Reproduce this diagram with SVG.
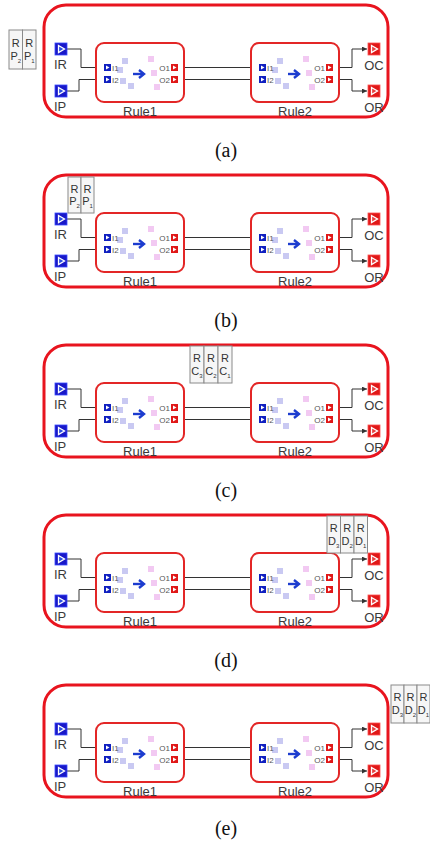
<svg xmlns="http://www.w3.org/2000/svg" width="430" height="844" viewBox="0 0 430 844">
<style>
.frame{fill:none;stroke:#e8141e;stroke-width:3}
.rule{fill:#fff;stroke:#e32626;stroke-width:2}
.lbl{font-family:"Liberation Sans",Arial,sans-serif;font-size:13px;fill:#3a3a3a}
.mid{text-anchor:middle}
.pl{font-family:"Liberation Sans",Arial,sans-serif;font-size:8px;fill:#555}
.cap{font-family:"Liberation Serif","Times New Roman",serif;font-size:20px;fill:#111;text-anchor:middle}
.wire{fill:none;stroke:#333;stroke-width:1;marker-end:url(#ah)}
.tok rect{fill:#f6f6f6;stroke:#8a8a8a;stroke-width:1}
.tk{font-family:"Liberation Sans",Arial,sans-serif;font-size:11px;fill:#333;text-anchor:middle}
.sub{font-size:6px}
.sqb{fill:#c9c9f2}
.sqp{fill:#f2c9f2}
.arr{fill:none;stroke:#1c3ccf;stroke-width:2.4}
</style>
<defs>
<marker id="ah" markerUnits="userSpaceOnUse" markerWidth="5" markerHeight="5" refX="5" refY="2.5" orient="auto"><path d="M0,0L5,2.5L0,5z" fill="#333"/></marker>
<g id="pin-in"><rect x="0" y="0" width="12" height="12" fill="#1818c8" stroke="#3a4aff" stroke-width="0.8"/><path d="M3.5,2.5L9.5,6L3.5,9.5Z" fill="#2a50e0" stroke="#fff" stroke-width="1.3"/></g>
<g id="pin-out"><rect x="0" y="0" width="12" height="12" fill="#e01818" stroke="#ff5050" stroke-width="0.8"/><path d="M3.5,2.5L9.5,6L3.5,9.5Z" fill="#e84040" stroke="#fff" stroke-width="1.3"/></g>
<g id="sin"><rect width="7" height="7" fill="#1020c0"/><path d="M2,1.5L5.5,3.5L2,5.5Z" fill="#fff"/></g>
<g id="sout"><rect width="7" height="7" fill="#e01818"/><path d="M2,1.5L5.5,3.5L2,5.5Z" fill="#fff"/></g>
<g id="rule">
<rect class="rule" x="0" y="0" width="88" height="59" rx="8"/>
<rect class="sqb" x="26" y="15" width="6" height="6"/>
<rect class="sqb" x="21" y="24" width="6" height="6"/>
<rect class="sqb" x="24" y="35" width="6" height="6"/>
<rect class="sqb" x="32" y="40" width="6" height="6"/>
<rect class="sqp" x="52" y="13" width="6" height="6"/>
<rect class="sqp" x="55" y="27" width="6" height="6"/>
<rect class="sqp" x="58" y="41" width="6" height="6"/>
<path class="arr" d="M37,31H47"/><path class="arr" d="M43,27L48,31L43,35"/>
<use href="#sin" x="8" y="21"/><use href="#sin" x="8" y="33"/>
<use href="#sout" x="75" y="21"/><use href="#sout" x="75" y="33"/>
<text class="pl" x="16" y="27.5">I1</text><text class="pl" x="16" y="39.5">I2</text>
<text class="pl" x="74" y="27.5" text-anchor="end">O1</text><text class="pl" x="74" y="39.5" text-anchor="end">O2</text>
</g>
</defs>
<rect x="0" y="0" width="430" height="844" fill="#fff"/>

<g id="panel-a" transform="translate(0,5)">
<g id="a-frame"><rect class="frame" x="44" y="0" width="344" height="112" rx="22"/></g>
<g id="a-connectors">
<path class="wire" d="M67,44H81V62.5H103"/>
<path class="wire" d="M67,86H79V74.5H103"/>
<path class="wire" d="M178,62.5H258"/>
<path class="wire" d="M178,74.5H258"/>
<path class="wire" d="M333,62.5H352V44H367"/>
<path class="wire" d="M333,74.5H352V86H367"/>
</g>
<g id="a-IR"><use href="#pin-in" x="55" y="38"/><text class="lbl" x="54" y="64">IR</text></g>
<g id="a-IP"><use href="#pin-in" x="55" y="80"/><text class="lbl" x="54" y="106">IP</text></g>
<g id="a-rule1"><use href="#rule" x="96" y="38"/><text class="lbl mid" x="140" y="111">Rule1</text></g>
<g id="a-rule2"><use href="#rule" x="251" y="38"/><text class="lbl mid" x="295" y="111">Rule2</text></g>
<g id="a-OC"><use href="#pin-out" x="368" y="38"/><text class="lbl mid" x="374" y="65">OC</text></g>
<g id="a-OR"><use href="#pin-out" x="368" y="80"/><text class="lbl mid" x="374" y="107">OR</text></g>
<g id="a-tokens" class="tok">
<rect x="9" y="25" width="13.5" height="39"/><rect x="22.5" y="25" width="13.5" height="39"/>
<text class="tk" x="15.75" y="42">R</text><text class="tk" x="15.75" y="55">P<tspan class="sub" dy="3">2</tspan></text>
<text class="tk" x="29.25" y="42">R</text><text class="tk" x="29.25" y="55">P<tspan class="sub" dy="3">1</tspan></text>
</g>
<text class="cap" x="226" y="152">(a)</text>
</g>

<g id="panel-b" transform="translate(0,175)">
<g id="b-frame"><rect class="frame" x="44" y="0" width="344" height="112" rx="22"/></g>
<g id="b-connectors">
<path class="wire" d="M67,44H81V62.5H103"/>
<path class="wire" d="M67,86H79V74.5H103"/>
<path class="wire" d="M178,62.5H258"/>
<path class="wire" d="M178,74.5H258"/>
<path class="wire" d="M333,62.5H352V44H367"/>
<path class="wire" d="M333,74.5H352V86H367"/>
</g>
<g id="b-IR"><use href="#pin-in" x="55" y="38"/><text class="lbl" x="54" y="64">IR</text></g>
<g id="b-IP"><use href="#pin-in" x="55" y="80"/><text class="lbl" x="54" y="106">IP</text></g>
<g id="b-rule1"><use href="#rule" x="96" y="38"/><text class="lbl mid" x="140" y="111">Rule1</text></g>
<g id="b-rule2"><use href="#rule" x="251" y="38"/><text class="lbl mid" x="295" y="111">Rule2</text></g>
<g id="b-OC"><use href="#pin-out" x="368" y="38"/><text class="lbl mid" x="374" y="65">OC</text></g>
<g id="b-OR"><use href="#pin-out" x="368" y="80"/><text class="lbl mid" x="374" y="107">OR</text></g>
<g id="b-tokens" class="tok">
<rect x="68" y="2" width="13" height="36"/><rect x="81" y="2" width="13" height="36"/>
<text class="tk" x="74.5" y="18">R</text><text class="tk" x="74.5" y="30">P<tspan class="sub" dy="3">2</tspan></text>
<text class="tk" x="87.5" y="18">R</text><text class="tk" x="87.5" y="30">P<tspan class="sub" dy="3">1</tspan></text>
</g>
<text class="cap" x="226" y="152">(b)</text>
</g>

<g id="panel-c" transform="translate(0,345)">
<g id="c-frame"><rect class="frame" x="44" y="0" width="344" height="112" rx="22"/></g>
<g id="c-connectors">
<path class="wire" d="M67,44H81V62.5H103"/>
<path class="wire" d="M67,86H79V74.5H103"/>
<path class="wire" d="M178,62.5H258"/>
<path class="wire" d="M178,74.5H258"/>
<path class="wire" d="M333,62.5H352V44H367"/>
<path class="wire" d="M333,74.5H352V86H367"/>
</g>
<g id="c-IR"><use href="#pin-in" x="55" y="38"/><text class="lbl" x="54" y="64">IR</text></g>
<g id="c-IP"><use href="#pin-in" x="55" y="80"/><text class="lbl" x="54" y="106">IP</text></g>
<g id="c-rule1"><use href="#rule" x="96" y="38"/><text class="lbl mid" x="140" y="111">Rule1</text></g>
<g id="c-rule2"><use href="#rule" x="251" y="38"/><text class="lbl mid" x="295" y="111">Rule2</text></g>
<g id="c-OC"><use href="#pin-out" x="368" y="38"/><text class="lbl mid" x="374" y="65">OC</text></g>
<g id="c-OR"><use href="#pin-out" x="368" y="80"/><text class="lbl mid" x="374" y="107">OR</text></g>
<g id="c-tokens" class="tok">
<rect x="190" y="1" width="14" height="37"/><rect x="204" y="1" width="14" height="37"/><rect x="218" y="1" width="14" height="37"/>
<text class="tk" x="197" y="17">R</text><text class="tk" x="197" y="30">C<tspan class="sub" dy="3">3</tspan></text>
<text class="tk" x="211" y="17">R</text><text class="tk" x="211" y="30">C<tspan class="sub" dy="3">2</tspan></text>
<text class="tk" x="225" y="17">R</text><text class="tk" x="225" y="30">C<tspan class="sub" dy="3">1</tspan></text>
</g>
<text class="cap" x="226" y="152">(c)</text>
</g>

<g id="panel-d" transform="translate(0,515)">
<g id="d-frame"><rect class="frame" x="44" y="0" width="344" height="112" rx="22"/></g>
<g id="d-connectors">
<path class="wire" d="M67,44H81V62.5H103"/>
<path class="wire" d="M67,86H79V74.5H103"/>
<path class="wire" d="M178,62.5H258"/>
<path class="wire" d="M178,74.5H258"/>
<path class="wire" d="M333,62.5H352V44H367"/>
<path class="wire" d="M333,74.5H352V86H367"/>
</g>
<g id="d-IR"><use href="#pin-in" x="55" y="38"/><text class="lbl" x="54" y="64">IR</text></g>
<g id="d-IP"><use href="#pin-in" x="55" y="80"/><text class="lbl" x="54" y="106">IP</text></g>
<g id="d-rule1"><use href="#rule" x="96" y="38"/><text class="lbl mid" x="140" y="111">Rule1</text></g>
<g id="d-rule2"><use href="#rule" x="251" y="38"/><text class="lbl mid" x="295" y="111">Rule2</text></g>
<g id="d-OC"><use href="#pin-out" x="368" y="38"/><text class="lbl mid" x="374" y="65">OC</text></g>
<g id="d-OR"><use href="#pin-out" x="368" y="80"/><text class="lbl mid" x="374" y="107">OR</text></g>
<g id="d-tokens" class="tok">
<rect x="327" y="1" width="13.5" height="37"/><rect x="340.5" y="1" width="13.5" height="37"/><rect x="354" y="1" width="13.5" height="37"/>
<text class="tk" x="333.75" y="17">R</text><text class="tk" x="333.75" y="30">D<tspan class="sub" dy="3">3</tspan></text>
<text class="tk" x="347.25" y="17">R</text><text class="tk" x="347.25" y="30">D<tspan class="sub" dy="3">2</tspan></text>
<text class="tk" x="360.75" y="17">R</text><text class="tk" x="360.75" y="30">D<tspan class="sub" dy="3">1</tspan></text>
</g>
<text class="cap" x="226" y="152">(d)</text>
</g>

<g id="panel-e" transform="translate(0,685)">
<g id="e-frame"><rect class="frame" x="44" y="0" width="344" height="112" rx="22"/></g>
<g id="e-connectors">
<path class="wire" d="M67,44H81V62.5H103"/>
<path class="wire" d="M67,86H79V74.5H103"/>
<path class="wire" d="M178,62.5H258"/>
<path class="wire" d="M178,74.5H258"/>
<path class="wire" d="M333,62.5H352V44H367"/>
<path class="wire" d="M333,74.5H352V86H367"/>
</g>
<g id="e-IR"><use href="#pin-in" x="55" y="38"/><text class="lbl" x="54" y="64">IR</text></g>
<g id="e-IP"><use href="#pin-in" x="55" y="80"/><text class="lbl" x="54" y="106">IP</text></g>
<g id="e-rule1"><use href="#rule" x="96" y="38"/><text class="lbl mid" x="140" y="111">Rule1</text></g>
<g id="e-rule2"><use href="#rule" x="251" y="38"/><text class="lbl mid" x="295" y="111">Rule2</text></g>
<g id="e-OC"><use href="#pin-out" x="368" y="38"/><text class="lbl mid" x="374" y="65">OC</text></g>
<g id="e-OR"><use href="#pin-out" x="368" y="80"/><text class="lbl mid" x="374" y="107">OR</text></g>
<g id="e-tokens" class="tok">
<rect x="391" y="0" width="13" height="38"/><rect x="404" y="0" width="13" height="38"/><rect x="417" y="0" width="13" height="38"/>
<text class="tk" x="397.5" y="16">R</text><text class="tk" x="397.5" y="29">D<tspan class="sub" dy="3">3</tspan></text>
<text class="tk" x="410.5" y="16">R</text><text class="tk" x="410.5" y="29">D<tspan class="sub" dy="3">2</tspan></text>
<text class="tk" x="423.5" y="16">R</text><text class="tk" x="423.5" y="29">D<tspan class="sub" dy="3">1</tspan></text>
</g>
<text class="cap" x="226" y="150">(e)</text>
</g>
</svg>
